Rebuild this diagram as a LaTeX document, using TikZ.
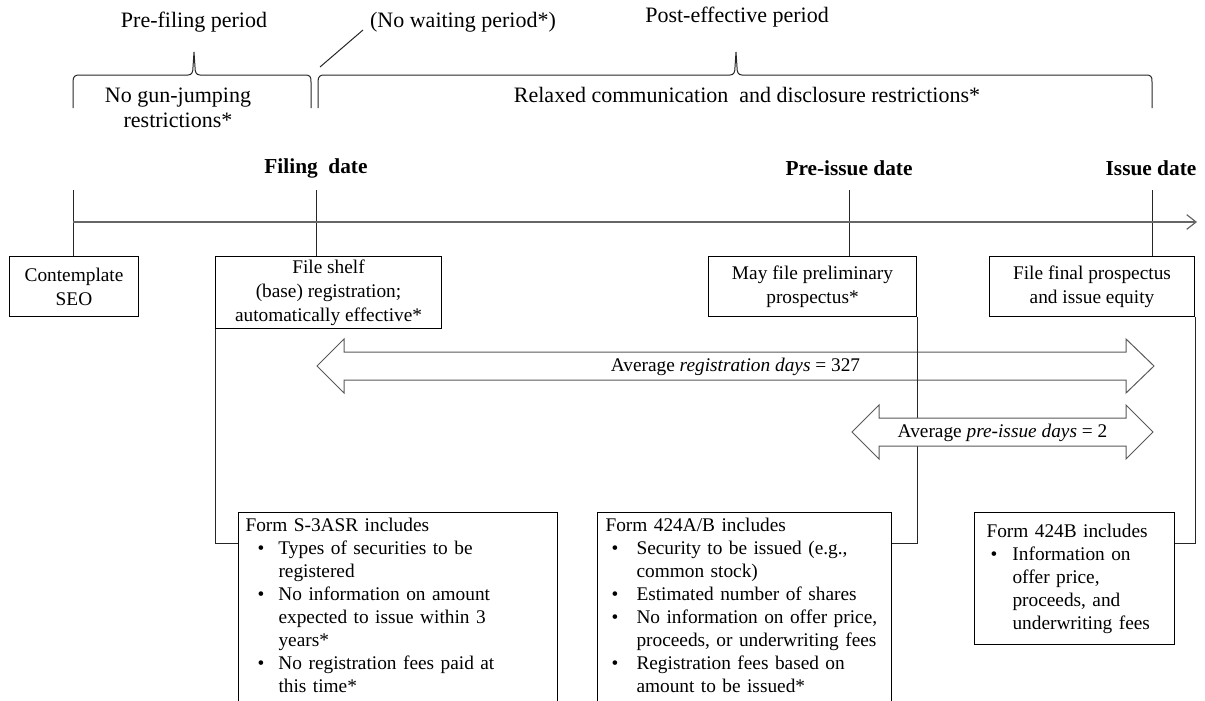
\documentclass[tikz,border=0pt]{standalone}
\usepackage{fontspec}
\setmainfont{Liberation Serif}
\usetikzlibrary{arrows.meta,calc}
\newlength\bulind
\newlength\itemind
\newcommand{\fitem}[1]{\mbox{\makebox[\itemind][l]{\hspace*{\bulind}\textbullet}#1}}
\newcommand{\fcont}[1]{\mbox{\hspace*{\itemind}#1}}
\begin{document}
\begin{tikzpicture}[x=0.75pt,y=-0.75pt,
  topfont/.style={font=\fontsize{16.5}{18.75}\selectfont},
  datefont/.style={font=\fontsize{16}{19}\selectfont\bfseries},
  stepbox/.style={draw=black, line width=0.75pt, font=\fontsize{14.5}{18}\selectfont,
    align=center, inner sep=0pt, anchor=north west},
  formbox/.style={draw=black, line width=0.75pt, font=\fontsize{14.5}{17.25}\selectfont,
    align=left, anchor=north west, inner ysep=0pt},
  link/.style={draw=black!85, line width=0.75pt},
  brace/.style={draw=black!85, line width=0.75pt},
  timeline/.style={draw=black!60, line width=0.9pt, -{Straight Barb[length=7pt,width=11pt]}},
  bigarrow/.style={draw=black!65, line width=0.75pt},
  arrowlabel/.style={font=\fontsize{14.5}{17}\selectfont, inner sep=1pt},
]
\useasboundingbox (0,0) rectangle (1205,700);
\clip (0,0) rectangle (1205,700);

% ---------- period labels ----------
\node[topfont] (pf) at (194,22) {Pre-filing period};
\node[topfont] (nw) at (463,22) {(No waiting period*)};
\node[topfont] (pe) at (737,17) {Post-effective period};
\node[topfont, align=center] (ngj) at (178,108) {No gun-jumping\\restrictions*};
\node[topfont] (rel) at (747,95) {Relaxed communication\ \ and disclosure restrictions*};

% braces
\draw[brace] (73,108) -- (73,82) .. controls (73,76) and (75,75) .. (80,75)
  -- (188,75) .. controls (192,75) and (193,72) .. (193,67) -- (194,52) -- (195,67)
  .. controls (195,72) and (196,75) .. (200,75) -- (304,75)
  .. controls (310,75) and (311,76) .. (311,82) -- (311,108);
\draw[brace] (318,108) -- (318,82) .. controls (318,76) and (320,75) .. (325,75)
  -- (730,75) .. controls (734,75) and (735,72) .. (735,67) -- (736,52) -- (737,67)
  .. controls (737,72) and (738,75) .. (742,75) -- (1145,75)
  .. controls (1151,75) and (1152,76) .. (1152,82) -- (1152,108);
\coordinate (nwa) at (320,67);
\coordinate (nwb) at (363,30);
\draw[brace] (nwa) -- (nwb);

% ---------- dates ----------
\node[datefont] (fd) at (316,168) {Filing\ \ date};
\node[datefont] (pid) at (849,168) {Pre-issue date};
\node[datefont] (isd) at (1151,168) {Issue date};

% ---------- step boxes ----------
\node[stepbox, minimum width=96.75pt, minimum height=45pt] (cs) at (9,256) {Contemplate\\SEO};
\node[stepbox, minimum width=169.5pt, minimum height=54pt] (shelf) at (215,256) {File shelf\\(base) registration;\\automatically effective*};
\node[stepbox, minimum width=156pt, minimum height=45pt] (may) at (708,256) {May file preliminary\\prospectus*};
\node[stepbox, minimum width=153.75pt, minimum height=45pt] (final) at (989,256) {File final prospectus\\and issue equity};

% ticks and timeline
\coordinate (t0) at (73,190);
\coordinate (t1) at (316,190);
\coordinate (t2) at (849,190);
\coordinate (t3) at (1152,190);
\draw[link] (t0) -- (t0 |- cs.north);
\draw[link] (t1) -- (t1 |- shelf.north);
\draw[link] (t2) -- (t2 |- may.north);
\draw[link] (t3) -- (t3 |- final.north);
\coordinate (tl0) at (73,222);
\coordinate (tl1) at (1197,222);
\draw[timeline] (tl0) -- (tl1);

% ---------- form boxes ----------
\node[formbox, inner xsep=5.25pt, text width=228.75pt, text height=13.9pt, text depth=136pt] (s3) at (238,512)
{\setlength\bulind{9pt}\setlength\itemind{24.75pt}%
\mbox{Form S-3ASR includes}\\
\fitem{Types of securities to be}\\
\fcont{registered}\\
\fitem{No information on amount}\\
\fcont{expected to issue within 3}\\
\fcont{years*}\\
\fitem{No registration fees paid at}\\
\fcont{this time*}};

\node[formbox, inner xsep=6pt, text width=208.5pt, text height=13.9pt, text depth=136pt] (fab) at (597,512)
{\setlength\bulind{4.5pt}\setlength\itemind{23.25pt}%
\mbox{Form 424A/B includes}\\
\fitem{Security to be issued (e.g.,}\\
\fcont{common stock)}\\
\fitem{Estimated number of shares}\\
\fitem{No information on offer price,}\\
\fcont{proceeds, or underwriting fees}\\
\fitem{Registration fees based on}\\
\fcont{amount to be issued*}};

\node[formbox, inner xsep=9pt, text width=132pt, text height=18.4pt, text depth=80.6pt] (fb) at (974,512)
{\setlength\bulind{3pt}\setlength\itemind{19.5pt}%
\mbox{Form 424B includes}\\
\fitem{Information on}\\
\fcont{offer price,}\\
\fcont{proceeds, and}\\
\fcont{underwriting fees}};

% ---------- big double arrow ----------
\draw[bigarrow] (317,366) -- (344,339) -- (344,352) -- (1126,352) -- (1126,339) -- (1154,366)
  -- (1126,393) -- (1126,380) -- (344,380) -- (344,393) -- cycle;
\node[arrowlabel] (reg) at (735.5,367) {Average \textit{registration days} = 327};

% ---------- connectors ----------
\draw[link] (shelf.south west) |- ([yshift=-23.25pt]s3.north west);
\draw[link] (may.south east) |- ([yshift=-23.25pt]fab.north east);
\draw[link] (final.south east) |- ([yshift=-23.25pt]fb.north east);

% ---------- small double arrow ----------
\draw[bigarrow, fill=white] (852,432) -- (879,405) -- (879,418) -- (1126,418) -- (1126,405) -- (1153,432)
  -- (1126,459) -- (1126,446) -- (879,446) -- (879,459) -- cycle;
\node[arrowlabel] (pre) at (1002.5,433) {Average \textit{pre-issue days} = 2};
\end{tikzpicture}
\end{document}
